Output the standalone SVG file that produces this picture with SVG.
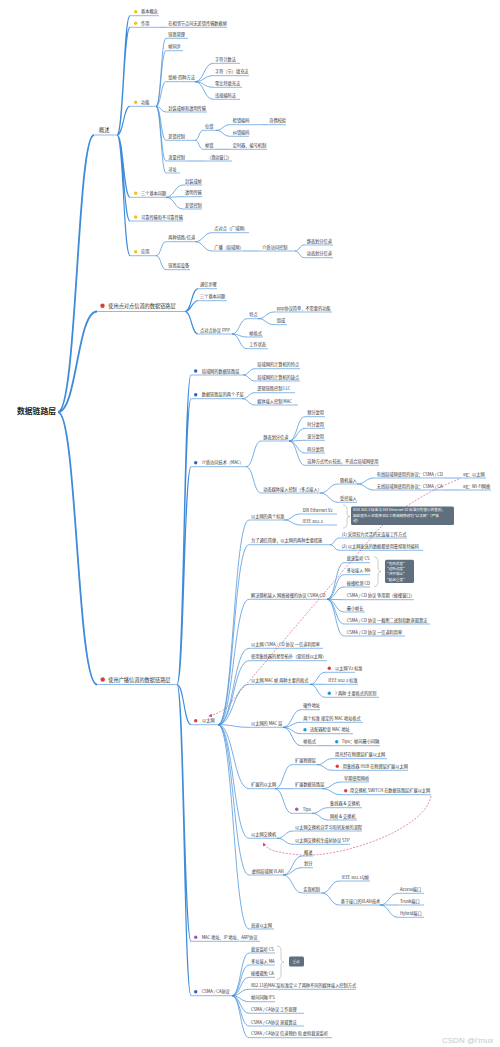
<svg xmlns="http://www.w3.org/2000/svg" width="500" height="1047" viewBox="0 0 500 1047">
<style>
text{font-family:"Noto Sans CJK SC","Noto Sans",sans-serif;fill:#333;font-size:4.2px}
.l1{font-size:5.2px}
.root{font-size:7.8px;font-weight:bold;fill:#222}
.u{fill:none;stroke:#3d8bd9;stroke-width:.6}
.c{fill:none;stroke:#3d8bd9;stroke-width:.7}
.c2{fill:none;stroke:#3d8bd9;stroke-width:1.1}
.c1{fill:none;stroke:#3d8bd9;stroke-width:1.8}
.dy{fill:#f2c21b}.dr{fill:#e23b3b}.db{fill:#2f5fcf}.dc{fill:#1f9ad8}.dp{fill:#9b59b6}
.rel{fill:none;stroke:#d23f8a;stroke-width:.6;stroke-dasharray:2 1.4}
.br{fill:none;stroke:#9a9a9a;stroke-width:.5}
.box{fill:#5f6f7d}
.bt{fill:#fff;font-size:3.6px}
.wm{font-family:"Liberation Sans",sans-serif;font-size:8px;fill:#c8c8c8}
</style>
<defs>
<marker id="ah" viewBox="0 0 6 6" refX="5" refY="3" markerWidth="6" markerHeight="6" orient="auto"><path d="M0 0L6 3L0 6z" fill="#d23f8a"/></marker>
</defs>
<rect width="500" height="1047" fill="#fff"/>

<g id="connectors">
<path class="c1" d="M58 412C77 412 77 135 94 135M58 412C77 412 77 311.5 97 311.5M58 412C77 412 77 684.5 97 684.5"/>
<path class="c2" d="M117 135C123.5 135 123.5 15.7 130 15.7M117 135C123.5 135 123.5 27.3 130 27.3M117 135C123.5 135 123.5 106.3 130 106.3M117 135C123.5 135 123.5 197.3 130 197.3M117 135C123.5 135 123.5 221 130 221M117 135C123.5 135 123.5 255.7 130 255.7"/>
<path class="c" d="M160 27.3H166"/>
<path class="c" d="M156 106.3C161 106.3 161 38.3 166 38.3M156 106.3C161 106.3 161 50.7 166 50.7M156 106.3C161 106.3 161 81.7 166 81.7M156 106.3C161 106.3 161 112 166 112M156 106.3C161 106.3 161 140.3 166 140.3M156 106.3C161 106.3 161 161 166 161M156 106.3C161 106.3 161 173 166 173"/>
<path class="c" d="M195 81.7C204 81.7 204 63.3 213 63.3M195 81.7C204 81.7 204 75.7 213 75.7M195 81.7C204 81.7 204 87.3 213 87.3M195 81.7C204 81.7 204 99.3 213 99.3"/>
<path class="c" d="M195 140.3C199 140.3 199 130.3 203 130.3M195 140.3C199 140.3 199 149.3 203 149.3"/>
<path class="c" d="M216 130.3C223 130.3 223 124.7 230 124.7M216 130.3C223 130.3 223 136.3 230 136.3M216 149.3H230M262 124.7H266M187 161H204"/>
<path class="c" d="M166 197.3C174.5 197.3 174.5 185 183 185M166 197.3C174.5 197.3 174.5 196.7 183 196.7M166 197.3C174.5 197.3 174.5 209 183 209"/>
<path class="c" d="M156 255.7C161 255.7 161 241.7 166 241.7M156 255.7C161 255.7 161 269.7 166 269.7"/>
<path class="c" d="M195 241.7C203.5 241.7 203.5 232.7 212 232.7M195 241.7C203.5 241.7 203.5 251 212 251M244 251H258"/>
<path class="c" d="M295 251C299.5 251 299.5 245 304 245M295 251C299.5 251 299.5 257.7 304 257.7"/>
<path class="c2" d="M185 311.5C191.5 311.5 191.5 288.7 198 288.7M185 311.5C191.5 311.5 191.5 300.7 198 300.7M185 311.5C191.5 311.5 191.5 334 198 334"/>
<path class="c" d="M232 334C239.5 334 239.5 318.7 247 318.7M232 334C239.5 334 239.5 337 247 337M232 334C239.5 334 239.5 348.7 247 348.7"/>
<path class="c" d="M258 318.7C266 318.7 266 312 274 312M258 318.7C266 318.7 266 324.7 274 324.7"/>
<path class="c2" d="M177 684.5C184 684.5 184 375 191 375M177 684.5C184 684.5 184 398.7 191 398.7M177 684.5C184 684.5 184 466.7 191 466.7M177 684.5C184 684.5 184 724.7 191 724.7M177 684.5C184 684.5 184 941.3 191 941.3M177 684.5C184 684.5 184 995.7 191 995.7"/>
<path class="c" d="M243 375C249 375 249 368.7 255 368.7M243 375C249 375 249 381 255 381M242 398.7C248.5 398.7 248.5 392.7 255 392.7M242 398.7C248.5 398.7 248.5 405 255 405"/>
<path class="c" d="M246 466.7C253.5 466.7 253.5 441 261 441M246 466.7C253.5 466.7 253.5 493 261 493"/>
<path class="c" d="M289 441C297 441 297 416.7 305 416.7M289 441C297 441 297 428.3 305 428.3M289 441C297 441 297 440.3 305 440.3M289 441C297 441 297 453 305 453M289 441C297 441 297 465.3 305 465.3"/>
<path class="c" d="M320 493C329 493 329 484 338 484M320 493C329 493 329 502.3 338 502.3M357 484C365.5 484 365.5 478 374 478M357 484C365.5 484 365.5 490 374 490M444 478H461M444 490H461"/>
<path class="c" d="M218 724.7C233.5 724.7 233.5 520 249 520M218 724.7C233.5 724.7 233.5 544.7 249 544.7M218 724.7C233.5 724.7 233.5 599.3 249 599.3M218 724.7C233.5 724.7 233.5 648.3 249 648.3M218 724.7C233.5 724.7 233.5 660.7 249 660.7M218 724.7C233.5 724.7 233.5 684.3 249 684.3M218 724.7C233.5 724.7 233.5 727.3 249 727.3M218 724.7C233.5 724.7 233.5 788.7 249 788.7M218 724.7C233.5 724.7 233.5 838.3 249 838.3M218 724.7C233.5 724.7 233.5 875 249 875M218 724.7C233.5 724.7 233.5 929 249 929"/>
<path class="c" d="M284 520C292 520 292 514 300 514M284 520C292 520 292 525 300 525M330 544.7C334.5 544.7 334.5 538 339 538M330 544.7C334.5 544.7 334.5 550.3 339 550.3"/>
<path class="c" d="M327 599.3C335.5 599.3 335.5 562.7 344 562.7M327 599.3C335.5 599.3 335.5 574.7 344 574.7M327 599.3C335.5 599.3 335.5 587 344 587M327 599.3C335.5 599.3 335.5 599.7 344 599.7M327 599.3C335.5 599.3 335.5 612 344 612M327 599.3C335.5 599.3 335.5 624 344 624M327 599.3C335.5 599.3 335.5 636 344 636"/>
<path class="c" d="M310 684.3C317.5 684.3 317.5 672.3 325 672.3M310 684.3H325M310 684.3C317.5 684.3 317.5 697.3 325 697.3"/>
<path class="c" d="M283 727.3C292 727.3 292 709.7 301 709.7M283 727.3C292 727.3 292 722.3 301 722.3M283 727.3C292 727.3 292 733.7 301 733.7M283 727.3C292 727.3 292 745.7 301 745.7M318 745.7H332"/>
<path class="c" d="M275 788.7C283.5 788.7 283.5 764.7 292 764.7M275 788.7H292M275 788.7C283.5 788.7 283.5 813.3 292 813.3"/>
<path class="c" d="M317 764.7C324.5 764.7 324.5 758.7 332 758.7M317 764.7C324.5 764.7 324.5 770.3 332 770.3M322 788.7C331.5 788.7 331.5 782 341 782M322 788.7C331.5 788.7 331.5 794.7 341 794.7M312 813.3C320 813.3 320 807.7 328 807.7M312 813.3C320 813.3 320 820 328 820"/>
<path class="c" d="M277 838.3C285 838.3 285 831 293 831M277 838.3C285 838.3 285 844.3 293 844.3"/>
<path class="c" d="M283 875C292.5 875 292.5 856 302 856M283 875C292.5 875 292.5 867.7 302 867.7M283 875C292.5 875 292.5 893 302 893"/>
<path class="c" d="M322 893C330.5 893 330.5 881 339 881M322 893C330.5 893 330.5 905 339 905M380 905C389 905 389 893.3 398 893.3M380 905H398M380 905C389 905 389 917.3 398 917.3"/>
<path class="c" d="M232 995.7C240.5 995.7 240.5 953 249 953M232 995.7C240.5 995.7 240.5 965 249 965M232 995.7C240.5 995.7 240.5 977.3 249 977.3M232 995.7C240.5 995.7 240.5 989.3 249 989.3M232 995.7C240.5 995.7 240.5 1001.7 249 1001.7M232 995.7C240.5 995.7 240.5 1013.3 249 1013.3M232 995.7C240.5 995.7 240.5 1026 249 1026M232 995.7C240.5 995.7 240.5 1037.7 249 1037.7"/>
<path class="rel" marker-end="url(#ah)" d="M459 479C432 490 402 505 377 531L233 700Q225 712 209 716"/>
<path class="rel" marker-end="url(#ah)" d="M431 796C425 830 340 858 300 855C279 853 266 850 263.5 843"/>
</g>

<g id="root"><text class="root" x="17" y="414">数据链路层</text></g>

<g id="n-overview"><path class="u" d="M94 135H117"/><text class="l1" x="99" y="131.5">概述</text></g>
<g id="n-basic"><circle class="dy" cx="135.7" cy="11.7" r="1.7"/><path class="u" d="M130 15.7H159"/><text x="141" y="13.3">基本概念</text></g>
<g id="n-role"><circle class="dy" cx="135.7" cy="23.3" r="1.7"/><path class="u" d="M130 27.3H160"/><text x="141" y="24.9">作用</text></g>
<g id="n-role-a"><path class="u" d="M166 27.3H227"/><text x="168.3" y="24.9">在相邻节点间无差错传输数据帧</text></g>
<g id="n-func"><circle class="dy" cx="135.7" cy="102.3" r="1.7"/><path class="u" d="M130 106.3H156"/><text x="141" y="103.9">功能</text></g>
<g id="n-f1"><path class="u" d="M166 38.3H188"/><text x="168.3" y="35.9">链路管理</text></g>
<g id="n-f2"><path class="u" d="M166 50.7H183"/><text x="168.3" y="48.3">帧同步</text></g>
<g id="n-f3"><path class="u" d="M166 81.7H195"/><text x="168.3" y="79.3">组帧-四种方法</text></g>
<g id="n-f3a"><path class="u" d="M213 63.3H240"/><text x="215" y="60.9">字符计数法</text></g>
<g id="n-f3b"><path class="u" d="M213 75.7H249"/><text x="215" y="73.3">字符（节）填充法</text></g>
<g id="n-f3c"><path class="u" d="M213 87.3H242"/><text x="215" y="84.9">零比特填充法</text></g>
<g id="n-f3d"><path class="u" d="M213 99.3H240"/><text x="215" y="96.9">违规编码法</text></g>
<g id="n-f4"><path class="u" d="M166 112H207"/><text x="168.3" y="109.6">封装成帧和透明传输</text></g>
<g id="n-f5"><path class="u" d="M166 140.3H195"/><text x="168.3" y="137.9">差错控制</text></g>
<g id="n-f5a"><path class="u" d="M203 130.3H216"/><text x="205" y="127.9">位错</text></g>
<g id="n-f5a1"><path class="u" d="M230 124.7H262"/><text x="232.7" y="122.3">检错编码</text></g>
<g id="n-f5a1a"><path class="u" d="M266 124.7H286"/><text x="269.3" y="122.3">奇偶校验</text></g>
<g id="n-f5a2"><path class="u" d="M230 136.3H249"/><text x="232.7" y="133.9">纠错编码</text></g>
<g id="n-f5b"><path class="u" d="M203 149.3H216"/><text x="205" y="146.9">帧错</text></g>
<g id="n-f5b1"><path class="u" d="M230 149.3H267"/><text x="232.7" y="146.9">定时器、编号机制</text></g>
<g id="n-f6"><path class="u" d="M166 161H187"/><text x="168.3" y="158.6">流量控制</text></g>
<g id="n-f6a"><path class="u" d="M204 161H232"/><text x="206.7" y="158.6">（滑动窗口）</text></g>
<g id="n-f7"><path class="u" d="M166 173H180"/><text x="168.3" y="170.6">寻址</text></g>
<g id="n-three"><circle class="dy" cx="135.7" cy="193.3" r="1.7"/><path class="u" d="M130 197.3H166"/><text x="141" y="194.9">三个基本问题</text></g>
<g id="n-t1"><path class="u" d="M183 185H202"/><text x="185" y="182.6">封装成帧</text></g>
<g id="n-t2"><path class="u" d="M183 196.7H202"/><text x="185" y="194.3">透明传输</text></g>
<g id="n-t3"><path class="u" d="M183 209H202"/><text x="185" y="206.6">差错控制</text></g>
<g id="n-rel"><circle class="dy" cx="135.7" cy="217" r="1.7"/><path class="u" d="M130 221H183"/><text x="141" y="218.6">可靠传输和不可靠传输</text></g>
<g id="n-app"><circle class="dy" cx="135.7" cy="251.7" r="1.7"/><path class="u" d="M130 255.7H156"/><text x="141" y="253.3">应用</text></g>
<g id="n-a1"><path class="u" d="M166 241.7H195"/><text x="168.3" y="239.3">两种链路/信道</text></g>
<g id="n-a1a"><path class="u" d="M212 232.7H249"/><text x="214.3" y="230.3">点对点（广域网）</text></g>
<g id="n-a1b"><path class="u" d="M212 251H244"/><text x="214.3" y="248.6">广播（局域网）</text></g>
<g id="n-a1b1"><path class="u" d="M258 251H295"/><text x="262.3" y="248.6">介质访问控制</text></g>
<g id="n-a1b1a"><path class="u" d="M304 245H333"/><text x="306.7" y="242.6">静态划分信道</text></g>
<g id="n-a1b1b"><path class="u" d="M304 257.7H333"/><text x="306.7" y="255.3">动态划分信道</text></g>
<g id="n-a2"><path class="u" d="M166 269.7H190"/><text x="168.3" y="267.3">链路层设备</text></g>

<g id="n-ppp-layer"><circle class="dr" cx="102.5" cy="305.7" r="2.2"/><path class="u" d="M97 311.5H185"/><text class="l1" x="108.3" y="307.7">使用点对点信道的数据链路层</text></g>
<g id="n-p1"><path class="u" d="M198 288.7H217"/><text x="200" y="286.3">通信步骤</text></g>
<g id="n-p2"><path class="u" d="M198 300.7H227"/><text x="200" y="298.3">三个基本问题</text></g>
<g id="n-p3"><path class="u" d="M198 334H232"/><text x="200" y="331.6">点对点协议 PPP</text></g>
<g id="n-p3a"><path class="u" d="M247 318.7H258"/><text x="249.3" y="316.3">特点</text></g>
<g id="n-p3a1"><path class="u" d="M274 312H332"/><text x="276.7" y="309.6">ppp协议简单、不需要的功能</text></g>
<g id="n-p3a2"><path class="u" d="M274 324.7H287"/><text x="276.7" y="322.3">组成</text></g>
<g id="n-p3b"><path class="u" d="M247 337H263"/><text x="249.3" y="334.6">帧格式</text></g>
<g id="n-p3c"><path class="u" d="M247 348.7H268"/><text x="249.3" y="346.3">工作状态</text></g>

<g id="n-bc-layer"><circle class="dr" cx="102.7" cy="679.5" r="2.2"/><path class="u" d="M97 684.5H177"/><text class="l1" x="108.3" y="681.5">使用广播信道的数据链路层</text></g>
<g id="n-lan"><circle class="db" cx="195.7" cy="371" r="1.7"/><path class="u" d="M191 375H243"/><text x="201.7" y="372.6">局域网的数据链路层</text></g>
<g id="n-lan1"><path class="u" d="M255 368.7H300"/><text x="257.3" y="366.3">局域网的计算机的特点</text></g>
<g id="n-lan2"><path class="u" d="M255 381H300"/><text x="257.3" y="378.6">局域网的计算机的缺点</text></g>
<g id="n-sub"><circle class="db" cx="195.7" cy="394.7" r="1.7"/><path class="u" d="M191 398.7H242"/><text x="201.7" y="396.3">数据链路层的两个子层</text></g>
<g id="n-sub1"><path class="u" d="M255 392.7H295"/><text x="257.3" y="390.3">逻辑链路控制 LLC</text></g>
<g id="n-sub2"><path class="u" d="M255 405H298"/><text x="257.3" y="402.6">媒体接入控制 MAC</text></g>
<g id="n-mac"><circle class="db" cx="195.7" cy="462.7" r="1.7"/><path class="u" d="M191 466.7H246"/><text x="201.7" y="464.3">介质访问技术（MAC）</text></g>
<g id="n-m1"><path class="u" d="M261 441H289"/><text x="263.3" y="438.6">静态划分信道</text></g>
<g id="n-m1a"><path class="u" d="M305 416.7H325"/><text x="307.3" y="414.3">频分复用</text></g>
<g id="n-m1b"><path class="u" d="M305 428.3H325"/><text x="307.3" y="425.9">时分复用</text></g>
<g id="n-m1c"><path class="u" d="M305 440.3H325"/><text x="307.3" y="437.9">波分复用</text></g>
<g id="n-m1d"><path class="u" d="M305 453H325"/><text x="307.3" y="450.6">码分复用</text></g>
<g id="n-m1e"><path class="u" d="M305 465.3H379"/><text x="307.3" y="462.9">这种方式代价较高，不适合局域网使用</text></g>
<g id="n-m2"><path class="u" d="M261 493H320"/><text x="263.3" y="490.6">动态媒体接入控制（多点接入）</text></g>
<g id="n-m2a"><path class="u" d="M338 484H357"/><text x="340" y="481.6">随机接入</text></g>
<g id="n-m2a1"><path class="u" d="M374 478H444"/><text x="376.7" y="475.6">有线局域网使用的协议：CSMA / CD</text></g>
<g id="n-m2a1e"><path class="u" d="M461 478H486"/><text x="463.3" y="475.6">eg：以太网</text></g>
<g id="n-m2a2"><path class="u" d="M374 490H444"/><text x="376.7" y="487.6">无线局域网使用的协议：CSMA / CA</text></g>
<g id="n-m2a2e"><path class="u" d="M461 490H491"/><text x="463.3" y="487.6">eg：Wi-Fi网络</text></g>
<g id="n-m2b"><path class="u" d="M338 502.3H357"/><text x="340" y="499.9">受控接入</text></g>

<g id="n-eth"><circle class="dr" cx="195.7" cy="720.7" r="1.7"/><path class="u" d="M191 724.7H218"/><text x="202" y="722.3">以太网</text></g>
<g id="n-e1"><path class="u" d="M249 520H284"/><text x="251" y="517.6">以太网的两个标准</text></g>
<g id="n-e1a"><path class="u" d="M300 514H337"/><text x="302.7" y="511.6">DIX Ethernet V2</text></g>
<g id="n-e1b"><path class="u" d="M300 525H337"/><text x="302.7" y="522.6">IEEE 802.3</text></g>
<g id="n-e1note"><path class="br" d="M343 505Q347 505 347 509.5V514Q347 516.5 350 516.5Q347 516.5 347 519V523.5Q347 528 343 528"/><rect class="box" x="351" y="506.5" width="103" height="18.5" rx="1.5"/><text class="bt" x="353" y="511.4">IEEE 802.3 标准与 DIX Ethernet V2 标准只有很小的差别，</text><text class="bt" x="353" y="516.6">因此很多人也常把 802.3 局域网简称为"以太网"（严格</text><text class="bt" x="353" y="521.8">说）</text></g>
<g id="n-e2"><path class="u" d="M249 544.7H330"/><text x="251" y="542.3">为了通信简便，以太网的两种重要措施</text></g>
<g id="n-e2a"><path class="u" d="M339 538H407"/><text x="341.7" y="535.6">(1) 采用较为灵活的无连接工作方式</text></g>
<g id="n-e2b"><path class="u" d="M339 550.3H423"/><text x="341.7" y="547.9">(2) 以太网发送的数据都使用曼彻斯特编码</text></g>
<g id="n-e3"><path class="u" d="M249 599.3H327"/><text x="251" y="596.9">解决随机接入 网络碰撞的协议 CSMA/CD</text></g>
<g id="n-e3a"><path class="u" d="M344 562.7H370"/><text x="346.7" y="560.3">载波监听 CS</text></g>
<g id="n-e3b"><path class="u" d="M344 574.7H370"/><text x="346.7" y="572.3">多址接入 MA</text></g>
<g id="n-e3c"><path class="u" d="M344 587H370"/><text x="346.7" y="584.6">碰撞检测 CD</text></g>
<g id="n-e3note"><path class="br" d="M374 557Q378 557 378 561.5V567Q378 571.5 381 571.5Q378 571.5 378 576V582Q378 586.5 374 586.5"/><rect class="box" x="385" y="559.7" width="29" height="23.3" rx="1.5"/><text class="bt" x="387" y="564.6">"先听后发"</text><text class="bt" x="387" y="569.9">"边听边发"</text><text class="bt" x="387" y="575.2">"冲突停止"</text><text class="bt" x="387" y="580.5">"延迟重发"</text></g>
<g id="n-e3d"><path class="u" d="M344 599.7H414"/><text x="346.7" y="597.3">CSMA / CD 协议 争用期（碰撞窗口）</text></g>
<g id="n-e3e"><path class="u" d="M344 612H365"/><text x="346.7" y="609.6">最小帧长</text></g>
<g id="n-e3f"><path class="u" d="M344 624H430"/><text x="346.7" y="621.6">CSMA / CD 协议 一截断二进制指数退避算法</text></g>
<g id="n-e3g"><path class="u" d="M344 636H405"/><text x="346.7" y="633.6">CSMA / CD 协议 一信道利用率</text></g>
<g id="n-e4"><path class="u" d="M249 648.3H323"/><text x="251" y="645.9">以太网 CSMA / CD 协议 一信道利用率</text></g>
<g id="n-e5"><path class="u" d="M249 660.7H327"/><text x="251" y="658.3">使用集线器的星型拓扑（双绞线以太网）</text></g>
<g id="n-e6"><path class="u" d="M249 684.3H310"/><text x="251" y="681.9">以太网 MAC 帧 两种主要的格式</text></g>
<g id="n-e6a"><circle class="dr" cx="329.3" cy="668.3" r="1.7"/><path class="u" d="M325 672.3H355"/><text x="335" y="669.9">以太网 V2 标准</text></g>
<g id="n-e6b"><path class="u" d="M325 684.3H358"/><text x="328.3" y="681.9">IEEE 802.3 标准</text></g>
<g id="n-e6c"><circle class="dc" cx="329.3" cy="693.3" r="1.7"/><path class="u" d="M325 697.3H379"/><text x="335" y="694.9">? 两种 主要格式的区别</text></g>
<g id="n-e7"><path class="u" d="M249 727.3H283"/><text x="251" y="724.9">以太网的 MAC 层</text></g>
<g id="n-e7a"><path class="u" d="M301 709.7H320"/><text x="303.3" y="707.3">硬件地址</text></g>
<g id="n-e7b"><path class="u" d="M301 722.3H363"/><text x="303.3" y="719.9">两个标准 规定的 MAC 地址格式</text></g>
<g id="n-e7c"><circle class="dc" cx="305" cy="729.7" r="1.7"/><path class="u" d="M301 733.7H353"/><text x="310" y="731.3">适配器检查 MAC 地址</text></g>
<g id="n-e7d"><path class="u" d="M301 745.7H318"/><text x="303.3" y="743.3">帧格式</text></g>
<g id="n-e7d1"><circle class="dc" cx="336.7" cy="741.7" r="1.7"/><path class="u" d="M332 745.7H380"/><text x="341.7" y="743.3">Tips：帧间最小间隔</text></g>
<g id="n-e8"><path class="u" d="M249 788.7H275"/><text x="251" y="786.3">扩展的以太网</text></g>
<g id="n-e8a"><path class="u" d="M292 764.7H317"/><text x="295" y="762.3">扩展物理层</text></g>
<g id="n-e8a1"><path class="u" d="M332 758.7H387"/><text x="335" y="756.3">用光纤在物理层扩展以太网</text></g>
<g id="n-e8a2"><circle class="dr" cx="337.3" cy="766.3" r="1.7"/><path class="u" d="M332 770.3H408"/><text x="342.7" y="767.9">用集线器 HUB 在物理层扩展以太网</text></g>
<g id="n-e8b"><path class="u" d="M292 788.7H322"/><text x="295" y="786.3">扩展数据链路层</text></g>
<g id="n-e8b1"><path class="u" d="M341 782H369"/><text x="344" y="779.6">早期使用网桥</text></g>
<g id="n-e8b2"><circle class="dr" cx="345.7" cy="790.7" r="1.7"/><path class="u" d="M341 794.7H431"/><text x="350" y="792.3">用交换机 SWITCH 在数据链路层扩展以太网</text></g>
<g id="n-e8c"><circle class="dp" cx="296.7" cy="809.3" r="1.7"/><path class="u" d="M292 813.3H312"/><text x="302.7" y="810.9">Tips</text></g>
<g id="n-e8c1"><path class="u" d="M328 807.7H362"/><text x="330" y="805.3">集线器 &amp; 交换机</text></g>
<g id="n-e8c2"><path class="u" d="M328 820H357"/><text x="330" y="817.6">网桥 &amp; 交换机</text></g>
<g id="n-e9"><path class="u" d="M249 838.3H277"/><text x="251" y="835.9">以太网交换机</text></g>
<g id="n-e9a"><path class="u" d="M293 831H362"/><text x="295" y="828.6">以太网交换机自学习和转发帧的流程</text></g>
<g id="n-e9b"><path class="u" d="M293 844.3H350"/><text x="295" y="841.9">以太网交换机生成树协议 STP</text></g>
<g id="n-e10"><path class="u" d="M249 875H283"/><text x="251.7" y="872.6">虚拟局域网 VLAN</text></g>
<g id="n-e10a"><path class="u" d="M302 856H313"/><text x="304" y="853.6">概述</text></g>
<g id="n-e10b"><path class="u" d="M302 867.7H313"/><text x="304" y="865.3">划分</text></g>
<g id="n-e10c"><path class="u" d="M302 893H322"/><text x="303.3" y="890.6">实现机制</text></g>
<g id="n-e10c1"><path class="u" d="M339 881H370"/><text x="341.7" y="878.6">IEEE 802.1Q帧</text></g>
<g id="n-e10c2"><path class="u" d="M339 905H380"/><text x="340.7" y="902.6">基于接口的VLAN技术</text></g>
<g id="n-e10c2a"><path class="u" d="M398 893.3H424"/><text x="400" y="890.9">Access端口</text></g>
<g id="n-e10c2b"><path class="u" d="M398 905H424"/><text x="400" y="902.6">Trunk端口</text></g>
<g id="n-e10c2c"><path class="u" d="M398 917.3H424"/><text x="400" y="914.9">Hybrid端口</text></g>
<g id="n-e11"><path class="u" d="M249 929H274"/><text x="251" y="926.6">高速以太网</text></g>
<g id="n-arp"><circle class="dp" cx="195.7" cy="937.3" r="1.7"/><path class="u" d="M191 941.3H260"/><text x="201.7" y="938.9">MAC 地址、IP 地址、ARP协议</text></g>
<g id="n-ca"><circle class="db" cx="195.7" cy="991.7" r="1.7"/><path class="u" d="M191 995.7H232"/><text x="201.7" y="993.3">CSMA / CA协议</text></g>
<g id="n-ca1"><path class="u" d="M249 953H275"/><text x="251" y="950.6">载波监听 CS</text></g>
<g id="n-ca2"><path class="u" d="M249 965H275"/><text x="251" y="962.6">多址接入 MA</text></g>
<g id="n-ca3"><path class="u" d="M249 977.3H275"/><text x="251" y="974.9">碰撞避免 CA</text></g>
<g id="n-canote"><path class="br" d="M277 946Q281 946 281 950.5V957.5Q281 962 284 962Q281 962 281 966.5V974.5Q281 979 277 979"/><rect class="box" x="289" y="956.5" width="15" height="10" rx="1.5"/><text class="bt" x="292.5" y="962.8">重点</text></g>
<g id="n-ca4"><path class="u" d="M249 989.3H356"/><text x="251" y="986.9">802.11的MAC层标准定义了两种不同的媒体接入控制方式</text></g>
<g id="n-ca5"><path class="u" d="M249 1001.7H275"/><text x="251" y="999.3">帧间间隔 IFS</text></g>
<g id="n-ca6"><path class="u" d="M249 1013.3H304"/><text x="251" y="1010.9">CSMA / CA协议 工作原理</text></g>
<g id="n-ca7"><path class="u" d="M249 1026H304"/><text x="251" y="1023.6">CSMA / CA协议 退避算法</text></g>
<g id="n-ca8"><path class="u" d="M249 1037.7H332"/><text x="251" y="1035.3">CSMA / CA协议 信道预约 和 虚拟载波监听</text></g>

<text class="wm" x="442" y="1043">CSDN @l'mux</text>
</svg>
